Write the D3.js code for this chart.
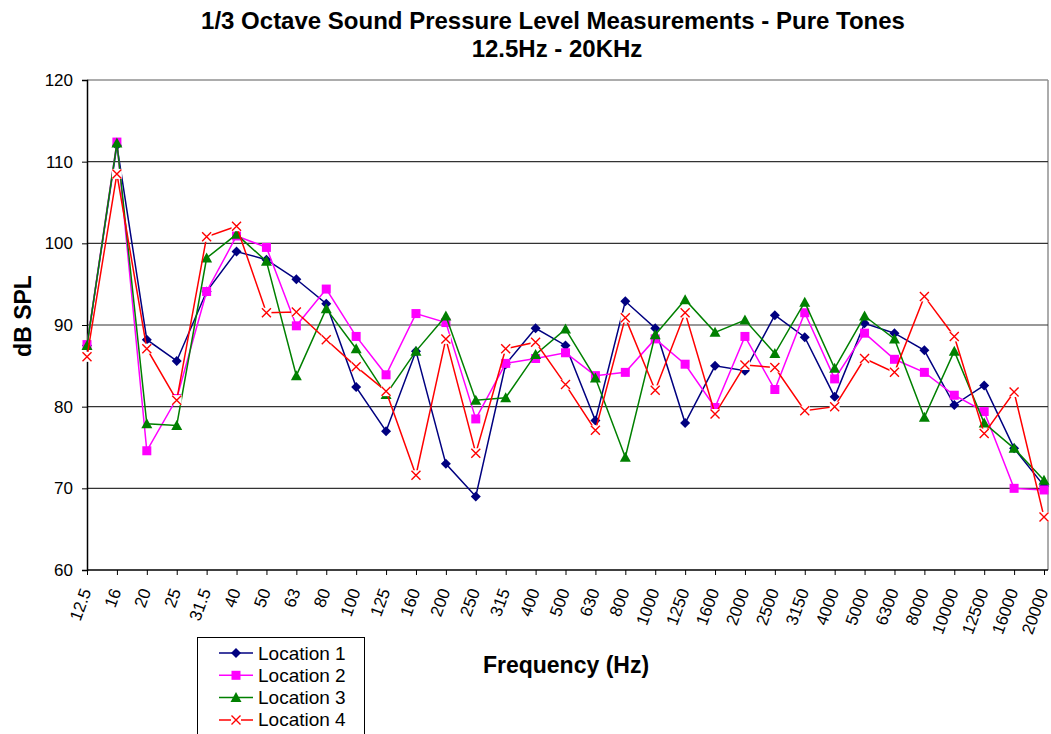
<!DOCTYPE html>
<html>
<head>
<meta charset="utf-8">
<script src="https://cdn.jsdelivr.net/npm/d3@7"></script>
<style>
  html, body { margin: 0; padding: 0; background: #fff; }
  svg { display: block; font-family: "Liberation Sans", Arial, sans-serif; }
</style>
</head>
<body>
<svg id="chart" width="1051" height="734"></svg>
<script>
// 1/3 octave band centre frequencies (Hz)
const frequencies = ["12.5","16","20","25","31.5","40","50","63","80","100","125","160","200","250","315","400","500","630","800","1000","1250","1600","2000","2500","3150","4000","5000","6300","8000","10000","12500","16000","20000"];

// Measured SPL (dB) at each location
const location1 = [87.5,112.0,88.2,85.6,94.1,99.0,98.0,95.6,92.6,82.4,77.0,86.8,73.0,69.0,85.2,89.6,87.5,78.3,92.9,89.6,78.0,85.0,84.4,91.2,88.5,81.2,90.2,89.0,86.9,80.2,82.6,74.9,70.3];
const location2 = [87.6,112.4,74.6,81.0,94.1,100.9,99.5,89.9,94.4,88.6,83.9,91.4,90.3,78.5,85.3,85.9,86.6,83.8,84.2,88.3,85.2,79.9,88.6,82.1,91.5,83.4,89.0,85.8,84.2,81.4,79.4,70.0,69.8];
const location3 = [87.5,112.3,77.9,77.7,98.2,101.1,97.8,83.8,92.0,87.1,81.5,86.8,91.1,80.8,81.1,86.4,89.5,83.5,73.8,88.8,93.1,89.1,90.6,86.5,92.8,84.7,91.1,88.3,78.7,86.8,78.0,74.9,71.0];
const location4 = [86.1,108.5,87.1,80.8,100.8,102.1,91.5,91.6,88.2,84.9,81.9,71.6,88.3,74.3,87.1,87.9,82.7,77.1,90.9,82.0,91.5,79.1,85.1,84.8,79.5,80.0,85.9,84.2,93.5,88.6,76.7,81.8,66.5];

const yTicks = [60,70,80,90,100,110,120];
const seriesNames = ["Location 1","Location 2","Location 3","Location 4"];

const seriesList = [
  { name: seriesNames[0], values: location1, color: "#000080", marker: "diamond" },
  { name: seriesNames[1], values: location2, color: "#FF00FF", marker: "square" },
  { name: seriesNames[2], values: location3, color: "#008000", marker: "triangle" },
  { name: seriesNames[3], values: location4, color: "#FF0000", marker: "cross" }
];

const svg = d3.select("#chart");
const plot = { left: 87, right: 1048, top: 80, bottom: 570 };

const x = d3.scalePoint().domain(frequencies).range([plot.left, 1044]);
const y = d3.scaleLinear().domain([60, 120]).range([plot.bottom, plot.top]);

// Title
const title = svg.append("g").attr("font-weight", "bold").attr("font-size", 24).attr("text-anchor", "middle").attr("fill", "#000");
title.append("text").attr("x", 553).attr("y", 29)
  .text("1/3 Octave Sound Pressure Level Measurements - Pure Tones");
title.append("text").attr("x", 557).attr("y", 57).text("12.5Hz - 20KHz");

// Plot frame (top and right edges)
svg.append("line").attr("x1", plot.left).attr("x2", plot.right).attr("y1", plot.top).attr("y2", plot.top)
  .attr("stroke", "#909090").attr("stroke-width", 1.5);
svg.append("line").attr("x1", plot.right).attr("x2", plot.right).attr("y1", plot.top).attr("y2", plot.bottom)
  .attr("stroke", "#909090").attr("stroke-width", 1.5);

// Horizontal gridlines
svg.append("g").selectAll("line").data(yTicks.filter(t => t > 60 && t < 120)).join("line")
  .attr("x1", plot.left).attr("x2", plot.right)
  .attr("y1", d => y(d)).attr("y2", d => y(d))
  .attr("stroke", "#333").attr("stroke-width", 1.2);

// Y axis
const yAxis = svg.append("g").attr("transform", `translate(${plot.left},0)`)
  .call(d3.axisLeft(y).tickValues(yTicks).tickSize(5).tickPadding(9).tickFormat(d3.format("d")));
yAxis.select(".domain").attr("stroke", "#000").attr("stroke-width", 1.5);
yAxis.selectAll(".tick line").attr("stroke", "#000");
yAxis.selectAll(".tick text").attr("font-size", 17).attr("fill", "#000")
  .attr("font-family", "Liberation Sans, Arial, sans-serif");

// X axis
const xAxis = svg.append("g").attr("transform", `translate(0,${plot.bottom})`)
  .call(d3.axisBottom(x).tickSize(5).tickSizeOuter(0));
xAxis.select(".domain").attr("stroke", "#000").attr("stroke-width", 1.5).attr("d", `M${plot.left},0H${plot.right}`);
xAxis.selectAll(".tick line").attr("stroke", "#000");
xAxis.selectAll(".tick text")
  .attr("font-size", 17).attr("fill", "#000")
  .attr("font-family", "Liberation Sans, Arial, sans-serif")
  .attr("text-anchor", "end")
  .attr("dy", null).attr("y", null)
  .attr("transform", "translate(4,21) rotate(-70)");

// Axis titles
svg.append("text").attr("x", 566).attr("y", 673).attr("text-anchor", "middle")
  .attr("font-weight", "bold").attr("font-size", 23).text("Frequency (Hz)");
svg.append("text").attr("transform", "translate(31,316) rotate(-90)").attr("text-anchor", "middle")
  .attr("font-weight", "bold").attr("font-size", 23).text("dB SPL");

// Marker shapes
function drawMarker(g, type, color, cx, cy) {
  if (type === "diamond") {
    g.append("path").attr("d", `M${cx},${cy-5}L${cx+5},${cy}L${cx},${cy+5}L${cx-5},${cy}Z`).attr("fill", color);
  } else if (type === "square") {
    g.append("rect").attr("x", cx-4.5).attr("y", cy-4.5).attr("width", 9).attr("height", 9).attr("fill", color);
  } else if (type === "triangle") {
    g.append("path").attr("d", `M${cx},${cy-5.5}L${cx+5.5},${cy+4.5}L${cx-5.5},${cy+4.5}Z`).attr("fill", color);
  } else if (type === "cross") {
    g.append("rect").attr("x", cx-5).attr("y", cy-5).attr("width", 10).attr("height", 10).attr("fill", "#fff");
    g.append("path").attr("d", `M${cx-4.5},${cy-4.5}L${cx+4.5},${cy+4.5}M${cx-4.5},${cy+4.5}L${cx+4.5},${cy-4.5}`)
      .attr("stroke", color).attr("stroke-width", 1.4).attr("fill", "none");
  }
}

const line = d3.line().x((d, i) => x(frequencies[i])).y(d => y(d));

seriesList.forEach(s => {
  const g = svg.append("g");
  g.append("path").datum(s.values).attr("d", line)
    .attr("fill", "none").attr("stroke", s.color).attr("stroke-width", 1.5);
  s.values.forEach((v, i) => drawMarker(g, s.marker, s.color, x(frequencies[i]), y(v)));
});

// Legend
const legend = svg.append("g");
legend.append("rect").attr("x", 197.5).attr("y", 637.5).attr("width", 167).attr("height", 110)
  .attr("fill", "#fff").attr("stroke", "#000").attr("stroke-width", 1);
seriesList.forEach((s, i) => {
  const cy = 653 + i * 22.3;
  const g = legend.append("g");
  g.append("line").attr("x1", 219).attr("x2", 253).attr("y1", cy).attr("y2", cy)
    .attr("stroke", s.color).attr("stroke-width", 1.5);
  drawMarker(g, s.marker, s.color, 236, cy);
  g.append("text").attr("x", 258).attr("y", cy + 6.5).attr("font-size", 19).attr("fill", "#000").text(s.name);
});
</script>
</body>
</html>
